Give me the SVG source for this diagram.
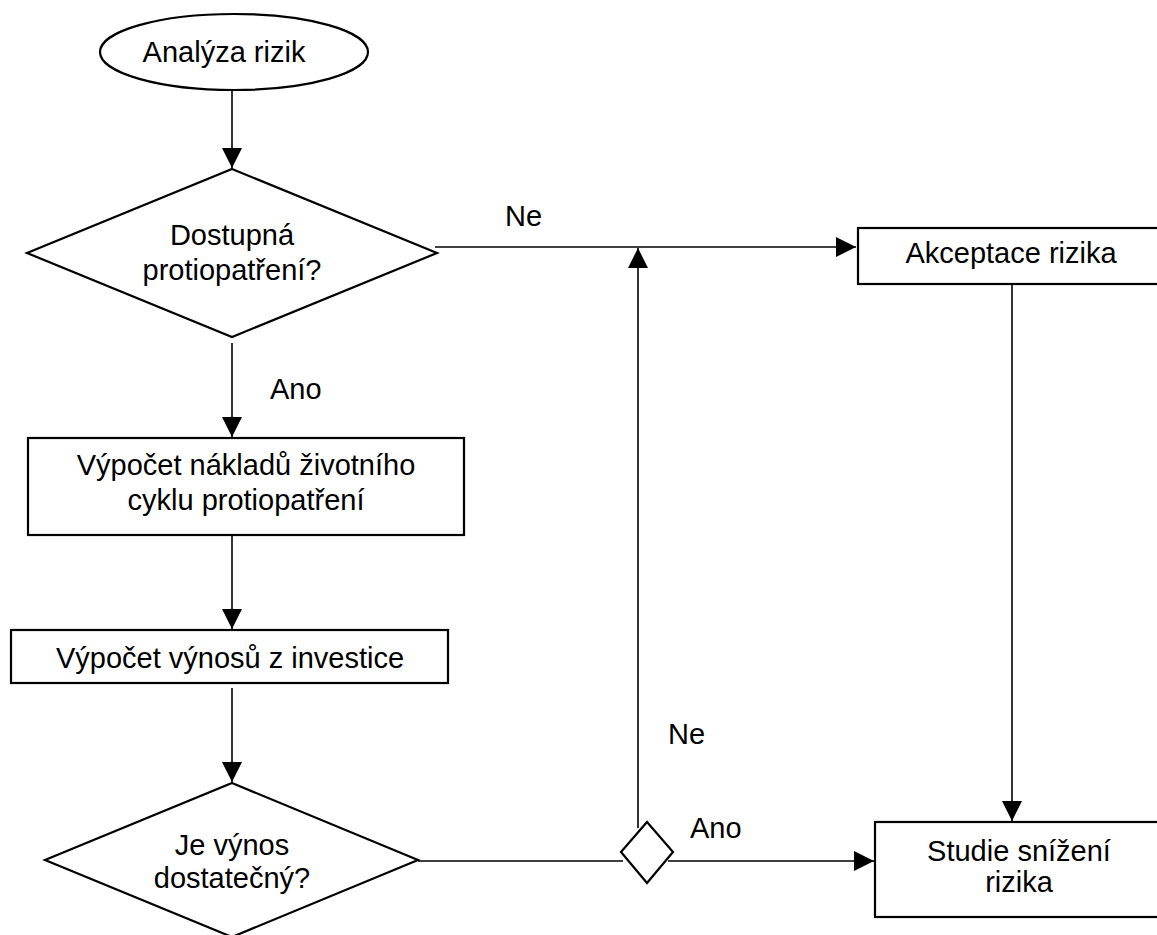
<svg xmlns="http://www.w3.org/2000/svg" width="1157" height="935" viewBox="0 0 1157 935">
  <style>
    .shape { fill: #ffffff; stroke: #000000; stroke-width: 2.2; }
    .edge { fill: none; stroke: #000000; stroke-width: 1.6; }
    text { font-family: "Liberation Sans", Arial, sans-serif; font-size: 29px; fill: #000000; }
    .c { text-anchor: middle; }
  </style>
  <defs>
    <marker id="arrow" markerUnits="userSpaceOnUse" markerWidth="20" markerHeight="20" refX="20" refY="10" orient="auto">
      <path d="M0,0 L20,10 L0,20 Z" fill="#000000"/>
    </marker>
  </defs>

  <!-- connectors -->
  <g id="connectors">
    <line class="edge" x1="232" y1="90" x2="232" y2="168" marker-end="url(#arrow)"/>
    <line class="edge" x1="232" y1="343" x2="232" y2="437" marker-end="url(#arrow)"/>
    <line class="edge" x1="232" y1="536" x2="232" y2="629" marker-end="url(#arrow)"/>
    <line class="edge" x1="232" y1="688" x2="232" y2="782" marker-end="url(#arrow)"/>
    <line class="edge" x1="435" y1="247" x2="856" y2="247" marker-end="url(#arrow)"/>
    <line class="edge" x1="1012" y1="285" x2="1012" y2="821" marker-end="url(#arrow)"/>
    <line class="edge" x1="418" y1="861" x2="623" y2="861"/>
    <line class="edge" x1="668" y1="861" x2="874" y2="861" marker-end="url(#arrow)"/>
    <line class="edge" x1="638" y1="828" x2="638" y2="248" marker-end="url(#arrow)"/>
    <text x="505" y="226">Ne</text>
    <text x="270" y="399">Ano</text>
    <text x="668" y="744">Ne</text>
    <text x="690" y="838">Ano</text>
  </g>

  <!-- nodes -->
  <g id="start">
    <ellipse class="shape" cx="234" cy="52" rx="134" ry="38"/>
    <text class="c" x="224" y="62">Analýza rizik</text>
  </g>

  <g id="decision-countermeasures">
    <polygon class="shape" points="232,169 437,253 232,337 27,253"/>
    <text class="c" x="232" y="245">Dostupná</text>
    <text class="c" x="232" y="280">protiopatření?</text>
  </g>

  <g id="lifecycle-cost">
    <rect class="shape" x="28" y="438" width="436" height="97"/>
    <text class="c" x="246" y="475">Výpočet nákladů životního</text>
    <text class="c" x="246" y="510">cyklu protiopatření</text>
  </g>

  <g id="roi">
    <rect class="shape" x="11" y="630" width="437" height="53"/>
    <text class="c" x="230" y="668">Výpočet výnosů z investice</text>
  </g>

  <g id="decision-return">
    <polygon class="shape" points="232,783 418,860 232,937 45,860"/>
    <text class="c" x="232" y="855">Je výnos</text>
    <text class="c" x="232" y="888">dostatečný?</text>
  </g>

  <g id="branch">
    <polygon class="shape" points="647,822 673,852 647,883 621,852"/>
  </g>

  <g id="accept-risk">
    <rect class="shape" x="858" y="228" width="306" height="56"/>
    <text class="c" x="1011" y="263">Akceptace rizika</text>
  </g>

  <g id="risk-reduction">
    <rect class="shape" x="875" y="822" width="288" height="95"/>
    <text class="c" x="1019" y="861">Studie snížení</text>
    <text class="c" x="1019" y="892">rizika</text>
  </g>
</svg>
